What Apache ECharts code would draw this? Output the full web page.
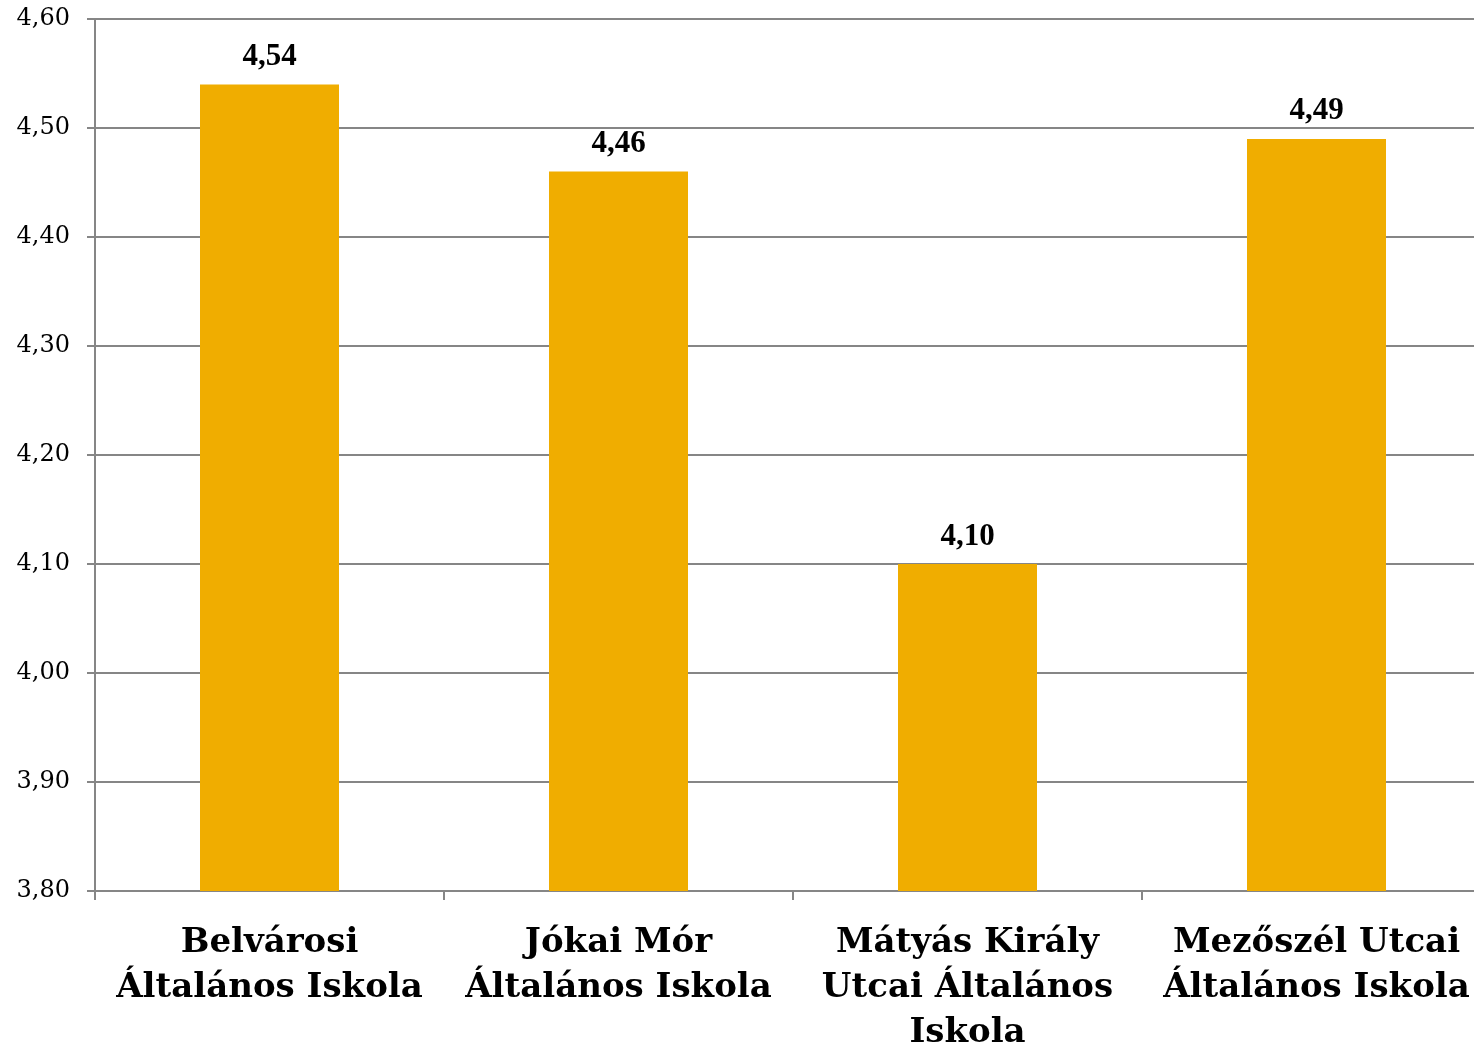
<!DOCTYPE html>
<html><head><meta charset="utf-8">
<script src="https://cdn.jsdelivr.net/npm/echarts@6/dist/echarts.min.js"></script>
<style>html,body{margin:0;padding:0;background:#fff}#c{width:1474px;height:1046px}</style>
</head><body><div id="c"></div>
<script>
const categories = ["Belvárosi\nÁltalános Iskola", "Jókai Mór\nÁltalános Iskola", "Mátyás Király\nUtcai Általános\nIskola", "Mezőszél Utcai\nÁltalános Iskola"];
const values = [4.54, 4.46, 4.10, 4.49];
const yMin = 3.8, yMax = 4.6, yStep = 0.1;
const fmt = v => v.toFixed(2).replace('.', ',');
const chart = echarts.init(document.getElementById('c'));
chart.setOption({
  animation: false,
  grid: {left: 95, width: 1396, top: 19, height: 872, containLabel: false, outerBoundsMode: 'none'},
  xAxis: {
    type: 'category', data: categories,
    axisLine: {lineStyle: {color: '#868686', width: 2}},
    axisTick: {show: true, length: 9, lineStyle: {color: '#868686', width: 2}},
    axisLabel: {interval: 0, margin: 30, color: '#000', fontFamily: 'DejaVu Serif', fontWeight: 'bold', fontSize: 34, lineHeight: 45, hideOverlap: false}
  },
  yAxis: {
    type: 'value', min: yMin, max: yMax, interval: yStep,
    axisLine: {show: true, lineStyle: {color: '#868686', width: 2}},
    axisTick: {show: true, length: 8, lineStyle: {color: '#868686', width: 2}},
    splitLine: {lineStyle: {color: '#868686', width: 2}},
    axisLabel: {margin: 25, color: '#000', fontFamily: 'DejaVu Serif', fontSize: 24, formatter: v => fmt(v)}
  },
  series: [{
    type: 'bar', data: values, barWidth: 139,
    itemStyle: {color: '#F0AD00'},
    label: {show: true, position: 'top', distance: 12, color: '#000', fontFamily: 'Liberation Serif', fontWeight: 'bold', fontSize: 31, formatter: p => fmt(p.value)}
  }]
});
</script></body></html>
